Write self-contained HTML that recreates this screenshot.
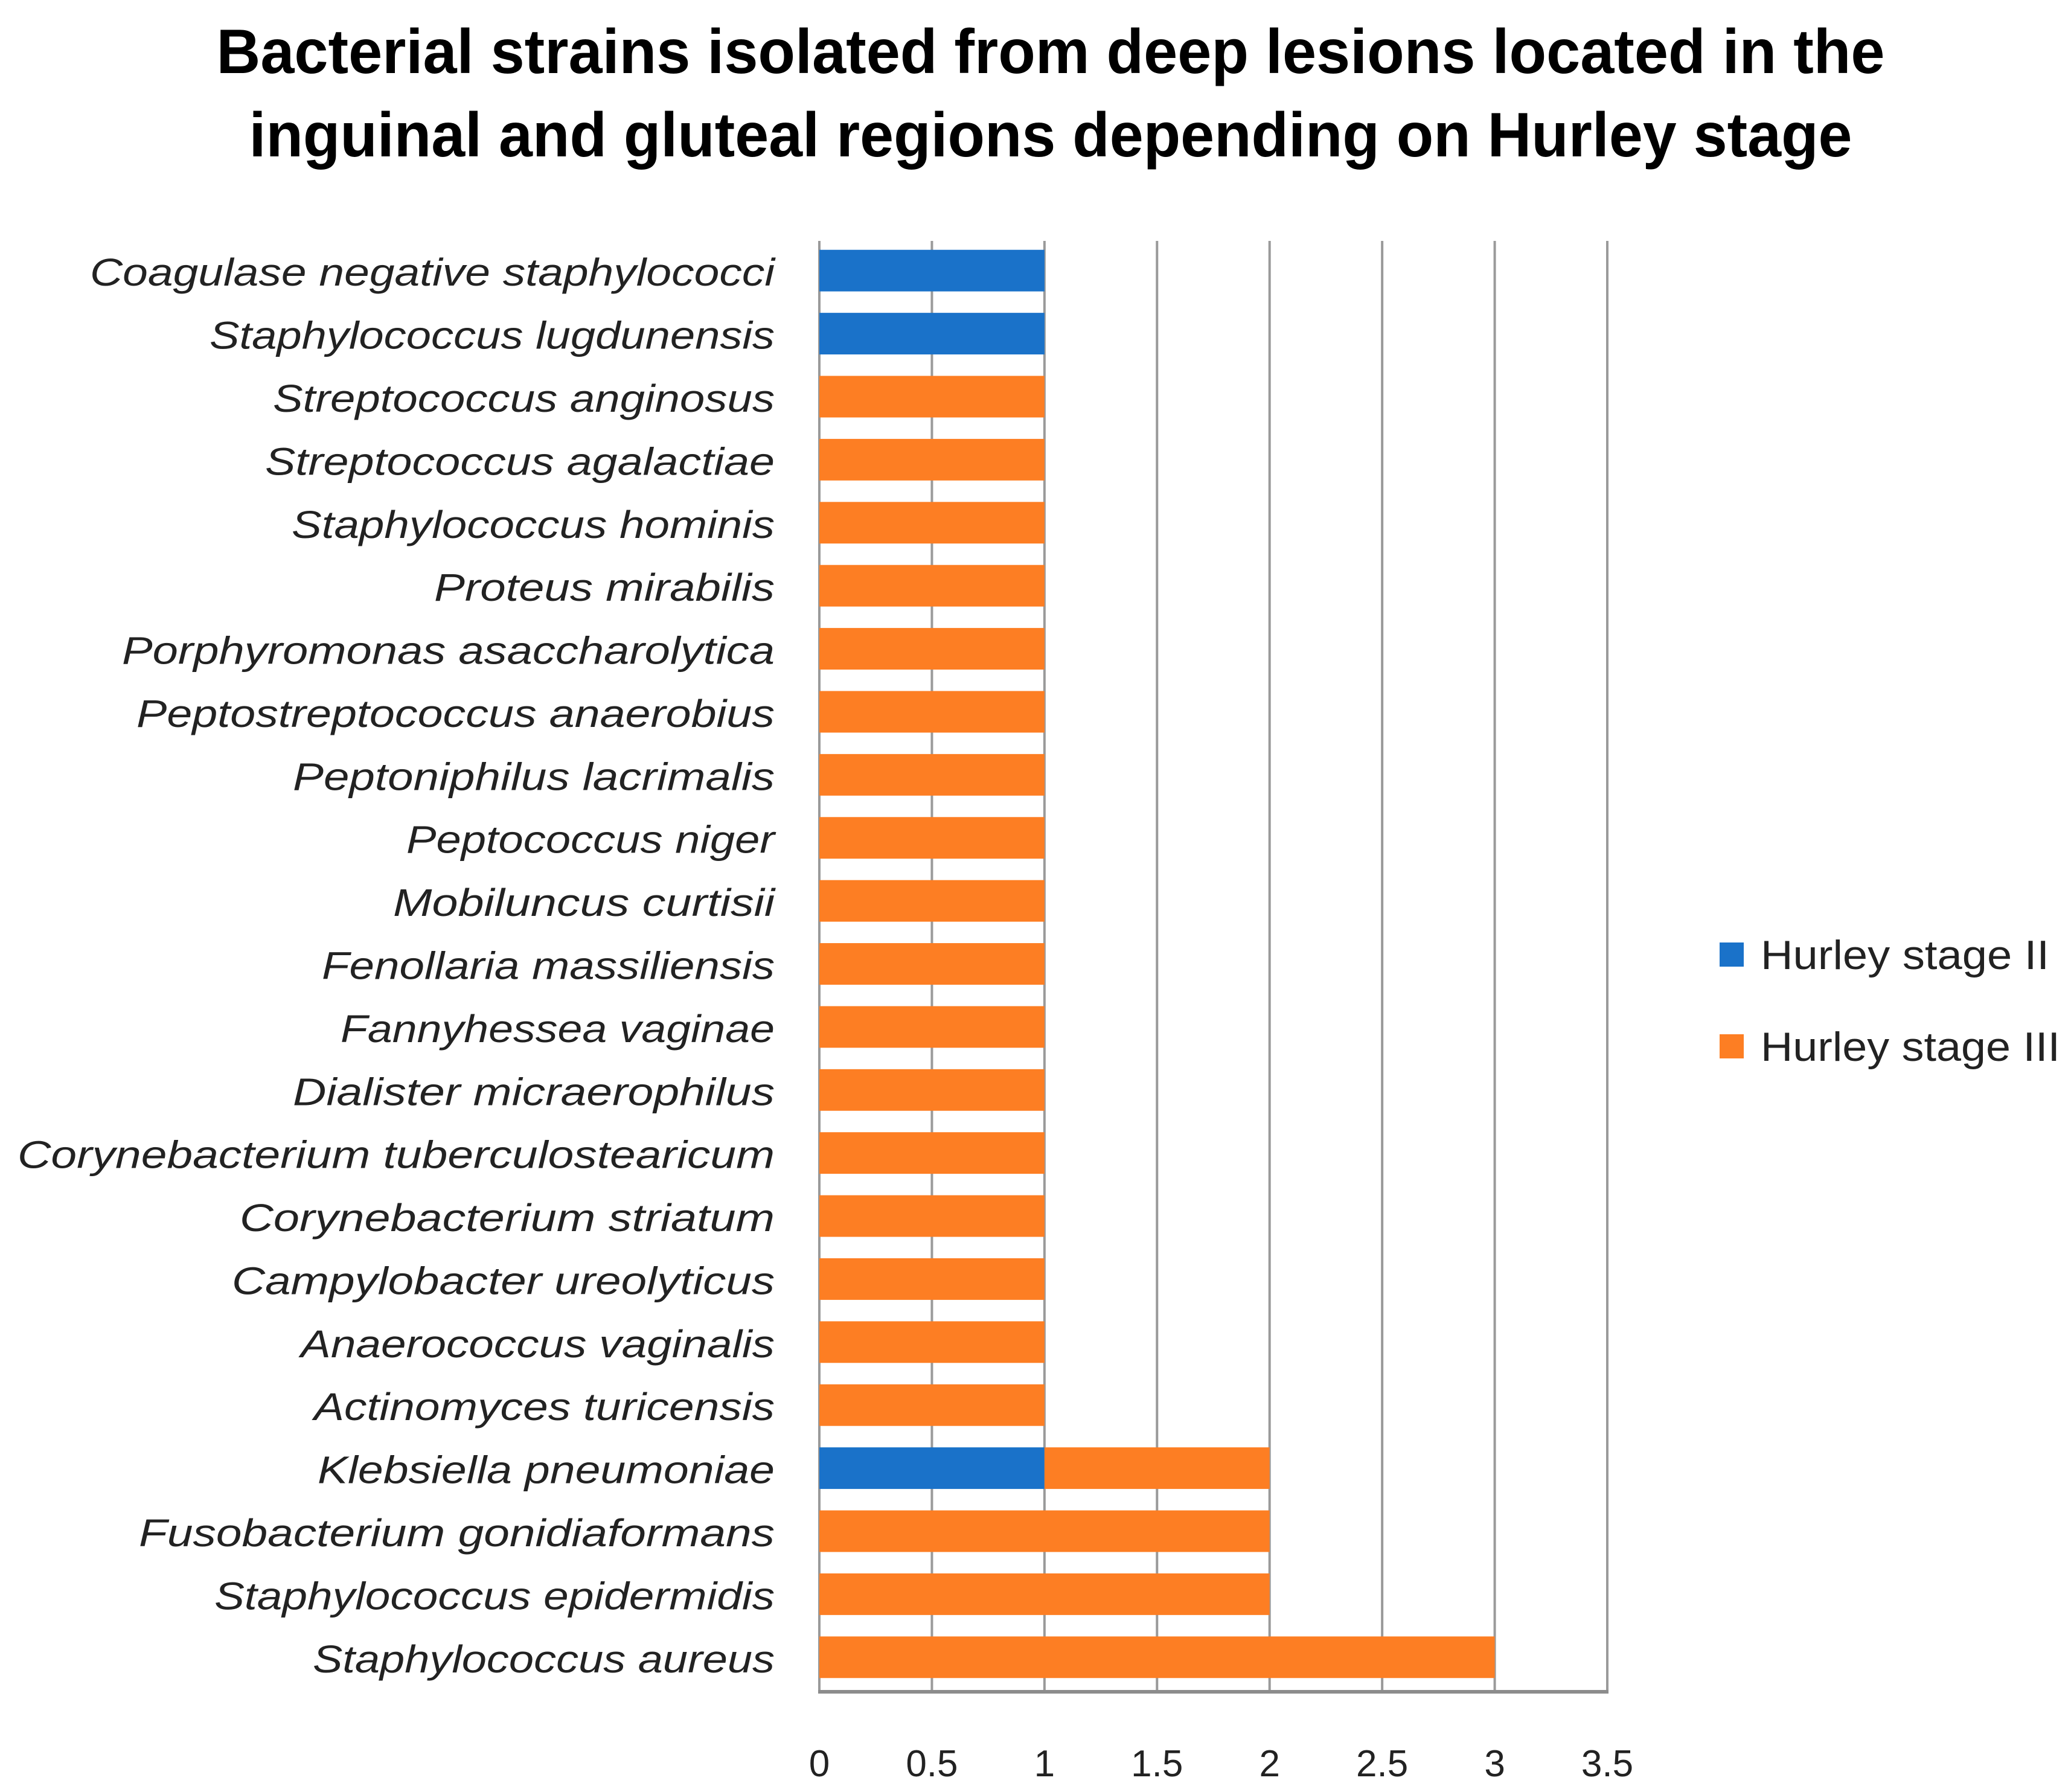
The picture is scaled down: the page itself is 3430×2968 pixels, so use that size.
<!DOCTYPE html>
<html><head><meta charset="utf-8"><style>
html,body{margin:0;padding:0;background:#fff;}
svg{display:block;}
text{font-family:"Liberation Sans",sans-serif;}
</style></head>
<body>
<svg id="chart" width="3430" height="2968" viewBox="0 0 3430 2968" xmlns="http://www.w3.org/2000/svg">
<g>
<text x="1740" y="121" text-anchor="middle" font-size="104" font-weight="bold" textLength="2763" lengthAdjust="spacingAndGlyphs">Bacterial strains isolated from deep lesions located in the</text>
<text x="1740" y="259" text-anchor="middle" font-size="104" font-weight="bold" textLength="2655" lengthAdjust="spacingAndGlyphs">inguinal and gluteal regions depending on Hurley stage</text>
</g>
<g id="grid"></g>
<g id="bars"></g>
<g id="ylabels"></g>
<g id="xlabels"></g>
<g>
<rect x="2848" y="1561" width="40" height="40" fill="#1a72c9"/>
<text x="2916" y="1605" font-size="68" fill="#222" textLength="478" lengthAdjust="spacingAndGlyphs">Hurley stage II</text>
<rect x="2848" y="1713" width="40" height="40" fill="#fd7e23"/>
<text x="2916" y="1757" font-size="68" fill="#222" textLength="496" lengthAdjust="spacingAndGlyphs">Hurley stage III</text>
</g>
</svg>
<script>
const categories = ["Coagulase negative staphylococci","Staphylococcus lugdunensis","Streptococcus anginosus","Streptococcus agalactiae","Staphylococcus hominis","Proteus mirabilis","Porphyromonas asaccharolytica","Peptostreptococcus anaerobius","Peptoniphilus lacrimalis","Peptococcus niger","Mobiluncus curtisii","Fenollaria massiliensis","Fannyhessea vaginae","Dialister micraerophilus","Corynebacterium tuberculostearicum","Corynebacterium striatum","Campylobacter ureolyticus","Anaerococcus vaginalis","Actinomyces turicensis","Klebsiella pneumoniae","Fusobacterium gonidiaformans","Staphylococcus epidermidis","Staphylococcus aureus"];
const stageII = [1,1,0,0,0,0,0,0,0,0,0,0,0,0,0,0,0,0,0,1,0,0,0];
const stageIII = [0,0,1,1,1,1,1,1,1,1,1,1,1,1,1,1,1,1,1,1,2,2,3];
const xTicks = [0,0.5,1,1.5,2,2.5,3,3.5];
const xTickLabels = ["0","0.5","1","1.5","2","2.5","3","3.5"];
const labelLeftDisplay = [68,158,206,200,220,328,92,103,221,307,297,243,257,221,13,181,175,227,237,240,105,162,236];

const NS = "http://www.w3.org/2000/svg";
const X0 = 1357, X1 = 2662, XMAX = 3.5;
const Y0 = 399, Y1 = 2800;
const band = (Y1 - Y0) / categories.length;
const barH = band * 0.66;
function xs(v){ return X0 + (X1 - X0) * v / XMAX; }
function yc(i){ return Y0 + band * (i + 0.5); }
function mk(tag, attrs, parent){
  const e = document.createElementNS(NS, tag);
  for (const k in attrs) e.setAttribute(k, attrs[k]);
  parent.appendChild(e);
  return e;
}
const grid = document.getElementById('grid');
xTicks.forEach((t) => {
  const l = mk('line', {x1: xs(t), x2: xs(t), y1: Y0, y2: Y1, stroke: '#9a9a9a', 'stroke-width': 4}, grid);
  
  
});
const ax = mk('line', {x1: X0 - 2, x2: X1 + 2, y1: Y1 + 2, y2: Y1 + 2, stroke: '#8c8c8c', 'stroke-width': 6}, grid);



const bars = document.getElementById('bars');
categories.forEach((c, i) => {
  const y = yc(i) - barH / 2 - 3;
  if (stageII[i] > 0) {
    const r = mk('rect', {x: xs(0), y: y, width: xs(stageII[i]) - xs(0), height: barH, fill: '#1a72c9'}, bars);
    
    
  }
  if (stageIII[i] > 0) {
    const r = mk('rect', {x: xs(stageII[i]), y: y, width: xs(stageII[i] + stageIII[i]) - xs(stageII[i]), height: barH, fill: '#fd7e23'}, bars);
    
    
  }
});

const yl = document.getElementById('ylabels');
categories.forEach((c, i) => {
  const w = (585 - labelLeftDisplay[i]) * 2.193;
  const t = mk('text', {x: 1283, y: yc(i) + 22, 'text-anchor': 'end', 'font-size': 64, 'font-style': 'italic', fill: '#222', textLength: w.toFixed(0), lengthAdjust: 'spacingAndGlyphs'}, yl);
  t.textContent = c;
  
  
});

const xl = document.getElementById('xlabels');
xTicks.forEach((t, i) => {
  const e = mk('text', {x: xs(t), y: 2942, 'text-anchor': 'middle', 'font-size': 62, fill: '#222'}, xl);
  e.textContent = xTickLabels[i];
  
  
});
</script>
</body></html>
